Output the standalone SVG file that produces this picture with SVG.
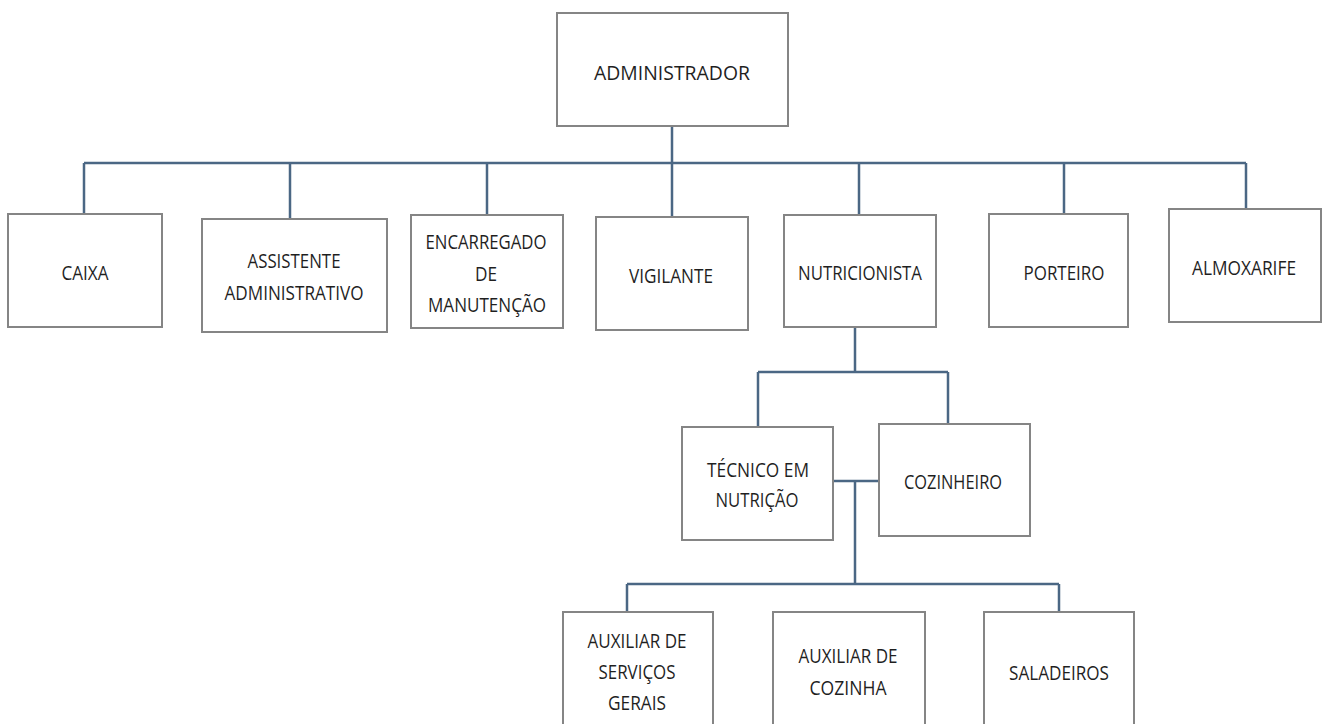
<svg xmlns="http://www.w3.org/2000/svg" width="1328" height="724" viewBox="0 0 1328 724">
<style>
.box{fill:#ffffff;stroke:#858585;stroke-width:2}
.t{font-family:"Open Sans","Liberation Sans",sans-serif;font-size:20.5px;fill:#1f1f1f;text-anchor:middle}
.c{fill:none;stroke:#4b6784;stroke-width:2.5}
</style>
<rect width="1328" height="724" fill="#ffffff"/>
<g id="connectors">
<path class="c" d="M672 126V163M84 163H1246M84 163V214M290 163V219M487 163V215M672 163V217M859 163V215M1064 163V214M1246 163V209"/>
<path class="c" d="M855 327V372M758 372H948M758 372V427M948 372V424"/>
<path class="c" d="M833 481H879M855 481V584M627 584H1059M627 584V612M1059 584V612"/>
</g>
<g id="administrador"><rect class="box" x="557" y="13" width="231" height="113"/><text class="t" x="672" y="80" textLength="156" lengthAdjust="spacingAndGlyphs">ADMINISTRADOR</text></g>
<g id="caixa"><rect class="box" x="8" y="214" width="154" height="113"/><text class="t" x="85" y="280" textLength="47" lengthAdjust="spacingAndGlyphs">CAIXA</text></g>
<g id="assistente"><rect class="box" x="202" y="219" width="185" height="113"/><text class="t" x="294" y="268" textLength="93" lengthAdjust="spacingAndGlyphs">ASSISTENTE</text><text class="t" x="294" y="300" textLength="139" lengthAdjust="spacingAndGlyphs">ADMINISTRATIVO</text></g>
<g id="encarregado"><rect class="box" x="411" y="215" width="152" height="113"/><text class="t" x="486" y="249" textLength="121" lengthAdjust="spacingAndGlyphs">ENCARREGADO</text><text class="t" x="486" y="281" textLength="22" lengthAdjust="spacingAndGlyphs">DE</text><text class="t" x="487" y="312" textLength="118" lengthAdjust="spacingAndGlyphs">MANUTENÇÃO</text></g>
<g id="vigilante"><rect class="box" x="596" y="217" width="152" height="113"/><text class="t" x="671" y="283" textLength="84" lengthAdjust="spacingAndGlyphs">VIGILANTE</text></g>
<g id="nutricionista"><rect class="box" x="784" y="215" width="152" height="112"/><text class="t" x="860" y="280" textLength="124" lengthAdjust="spacingAndGlyphs">NUTRICIONISTA</text></g>
<g id="porteiro"><rect class="box" x="989" y="214" width="139" height="113"/><text class="t" x="1064" y="280" textLength="81" lengthAdjust="spacingAndGlyphs">PORTEIRO</text></g>
<g id="almoxarife"><rect class="box" x="1169" y="209" width="152" height="113"/><text class="t" x="1244" y="275" textLength="104" lengthAdjust="spacingAndGlyphs">ALMOXARIFE</text></g>
<g id="tecnico"><rect class="box" x="682" y="427" width="151" height="113"/><text class="t" x="758" y="477" textLength="102" lengthAdjust="spacingAndGlyphs">TÉCNICO EM</text><text class="t" x="757" y="507" textLength="83" lengthAdjust="spacingAndGlyphs">NUTRIÇÃO</text></g>
<g id="cozinheiro"><rect class="box" x="879" y="424" width="151" height="112"/><text class="t" x="953" y="489" textLength="98" lengthAdjust="spacingAndGlyphs">COZINHEIRO</text></g>
<g id="aux-servicos"><rect class="box" x="563" y="612" width="150" height="120"/><text class="t" x="637" y="648" textLength="99" lengthAdjust="spacingAndGlyphs">AUXILIAR DE</text><text class="t" x="637" y="679" textLength="77" lengthAdjust="spacingAndGlyphs">SERVIÇOS</text><text class="t" x="637" y="710" textLength="58" lengthAdjust="spacingAndGlyphs">GERAIS</text></g>
<g id="aux-cozinha"><rect class="box" x="773" y="612" width="152" height="120"/><text class="t" x="848" y="663" textLength="99" lengthAdjust="spacingAndGlyphs">AUXILIAR DE</text><text class="t" x="848" y="695" textLength="77" lengthAdjust="spacingAndGlyphs">COZINHA</text></g>
<g id="saladeiros"><rect class="box" x="984" y="612" width="150" height="120"/><text class="t" x="1059" y="680" textLength="100" lengthAdjust="spacingAndGlyphs">SALADEIROS</text></g>
</svg>
